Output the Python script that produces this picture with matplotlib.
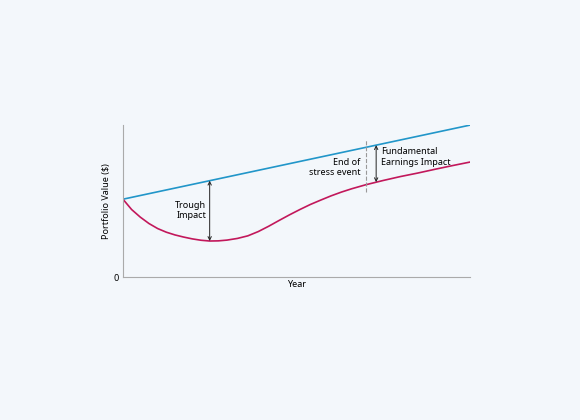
import matplotlib.pyplot as plt

plt.rcParams['font.family'] = ['Noto Sans', 'DejaVu Sans']

years = [0, 0.25, 0.5, 0.75, 1, 1.25, 1.5, 1.75, 2, 2.25, 2.5, 2.75, 3, 3.3, 3.6, 3.9, 4.2, 4.5, 4.8, 5.1, 5.4, 5.7, 6, 6.3, 6.6, 7, 7.5, 8, 8.5, 9, 9.5, 10]
stressed = [51.3, 44.5, 39.5, 35.3, 32, 29.6, 27.8, 26.4, 25.2, 24.3, 23.8, 23.9, 24.4, 25.5, 27.2, 30, 33.5, 37.3, 41, 44.5, 47.8, 50.7, 53.5, 56, 58.2, 60.8, 63.6, 66.2, 68.5, 71, 73.4, 75.7]
baseline_start, baseline_end = 51.3, 100

bg = '#f3f7fb'
fig = plt.figure(figsize=(5.8, 4.2), dpi=100, facecolor=bg)
ax = fig.add_axes([0.212, 0.340, 0.598, 0.362], facecolor=bg)
ax.plot([0, 10], [baseline_start, baseline_end], color='#2196c9', lw=1.2)
ax.plot(years, stressed, color='#c2185b', lw=1.2)
ax.set_xlim(0, 10)
ax.set_ylim(0, 100)
for s in ['top', 'right']:
    ax.spines[s].set_visible(False)
for s in ['left', 'bottom']:
    ax.spines[s].set_color('#aaaaaa')
ax.set_xticks([])
ax.set_yticks([0])
ax.tick_params(axis='y', length=0, labelsize=6.5, pad=3)
ax.set_xlabel('Year', fontsize=6.5, labelpad=2)
ax.set_ylabel('Portfolio Value ($)', fontsize=6.5, labelpad=2)

xb = lambda x: baseline_start + (baseline_end - baseline_start) * x / 10
ap = dict(arrowstyle='<->', color='#222222', lw=0.7, shrinkA=0, shrinkB=0, mutation_scale=6)
ax.annotate('', xy=(2.5, xb(2.5)), xytext=(2.5, 23.8), arrowprops=ap)
ax.text(2.4, 44, 'Trough\nImpact', ha='right', va='center', fontsize=6.5)
ax.plot([7, 7], [56, 91], color='#999999', ls='--', lw=0.8)
ax.text(6.85, 72, 'End of\nstress event', ha='right', va='center', fontsize=6.5)
ax.annotate('', xy=(7.3, xb(7.3)), xytext=(7.3, 62.5), arrowprops=ap)
ax.text(7.45, 79, 'Fundamental\nEarnings Impact', ha='left', va='center', fontsize=6.5)
fig.savefig('out.png', dpi=100, facecolor=bg)
